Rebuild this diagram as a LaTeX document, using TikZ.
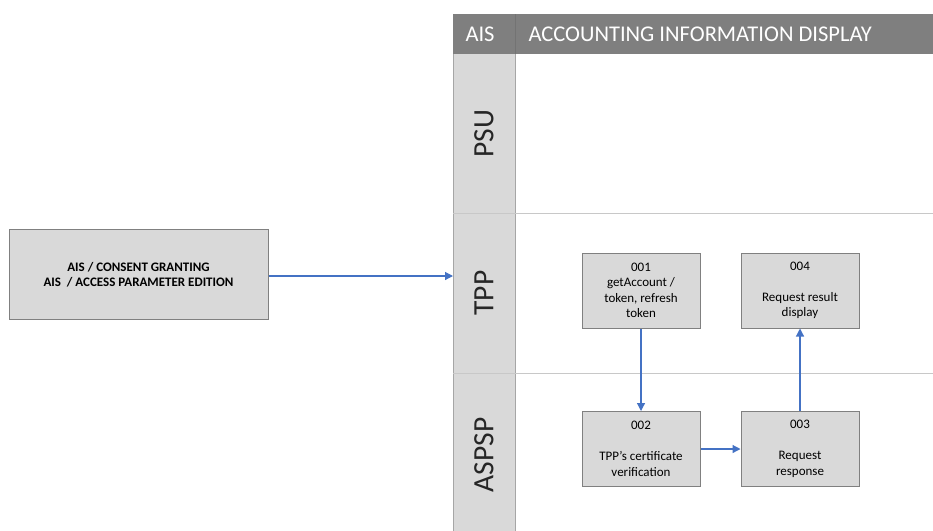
\documentclass[tikz,border=0pt]{standalone}
\usepackage{fontspec}
\setmainfont{Carlito}
\usetikzlibrary{arrows.meta}
\definecolor{hdr}{HTML}{7F7F7F}
\definecolor{lanefill}{HTML}{D9D9D9}
\definecolor{laneedge}{HTML}{A6A6A6}
\definecolor{sepline}{HTML}{C8C8C8}
\definecolor{boxedge}{HTML}{808080}
\definecolor{flow}{HTML}{4472C4}
\tikzset{
  stepbox/.style={draw=boxedge, line width=1pt, fill=lanefill, minimum width=118pt,
    minimum height=75pt, inner sep=0pt, font=\fontsize{13}{15.5}\selectfont, align=center},
  flowarrow/.style={draw=flow, line width=1.2pt, -{Triangle[length=8pt,width=8pt]}},
  lanelabel/.style={rotate=90, font=\fontsize{29.5}{29.5}\selectfont, text=black!85},
  hdrtext/.style={text=white, font=\fontsize{22.5}{22.5}\selectfont, anchor=west}
}
\begin{document}
\begin{tikzpicture}[x=1pt, y=-1pt]
  \useasboundingbox (0,0) rectangle (933,530);

  % header bar
  \fill[hdr] (453,14) rectangle (940,54);
  \draw[black!55, line width=0.8pt] (515,14) -- (515,54);
  \node[hdrtext] (hais) at (462,34.5) {AIS};
  \node[hdrtext] (htitle) at (525,34.5) {ACCOUNTING INFORMATION DISPLAY};

  % lane label column
  \fill[lanefill] (453,54) rectangle (515,540);
  \draw[laneedge, line width=0.8pt] (453,54) -- (453,540);
  \draw[laneedge, line width=0.8pt] (515,54) -- (515,540);

  % lane separators
  \draw[sepline, line width=1pt] (453,213) -- (940,213);
  \draw[sepline, line width=1pt] (453,373) -- (940,373);

  % lane labels
  \node[lanelabel] (psu) at (484,133.5) {PSU};
  \node[lanelabel] (tpp) at (484,293) {TPP};
  \node[lanelabel] (aspsp) at (484,455) {ASPSP};
  \coordinate (tppin) at (453,276);

  % preceding process
  \node[draw=boxedge, line width=1pt, fill=lanefill, minimum width=259pt, minimum height=90pt,
        inner sep=0pt, align=center, font=\bfseries\fontsize{13}{15.5}\selectfont] (prev) at (138.5,274.5)
        {AIS / CONSENT GRANTING\\AIS \ / ACCESS PARAMETER EDITION};

  % steps
  \node[stepbox] (s001) at (641,290.5) {001\\getAccount /\\token, refresh\\token};
  \node[stepbox] (s004) at (800,290.5) {004\\[15.5pt]Request result\\display};
  \node[stepbox] (s002) at (641,449) {002\\[15.5pt]TPP’s certificate\\verification};
  \node[stepbox] (s003) at (800,449) {003\\[15.5pt]Request\\response};

  % flow
  \draw[flowarrow] (prev.east |- tppin) -- (tppin);
  \draw[flowarrow] (s001) -- (s002);
  \draw[flowarrow] (s002) -- (s003);
  \draw[flowarrow] (s003) -- (s004);
\end{tikzpicture}
\end{document}
